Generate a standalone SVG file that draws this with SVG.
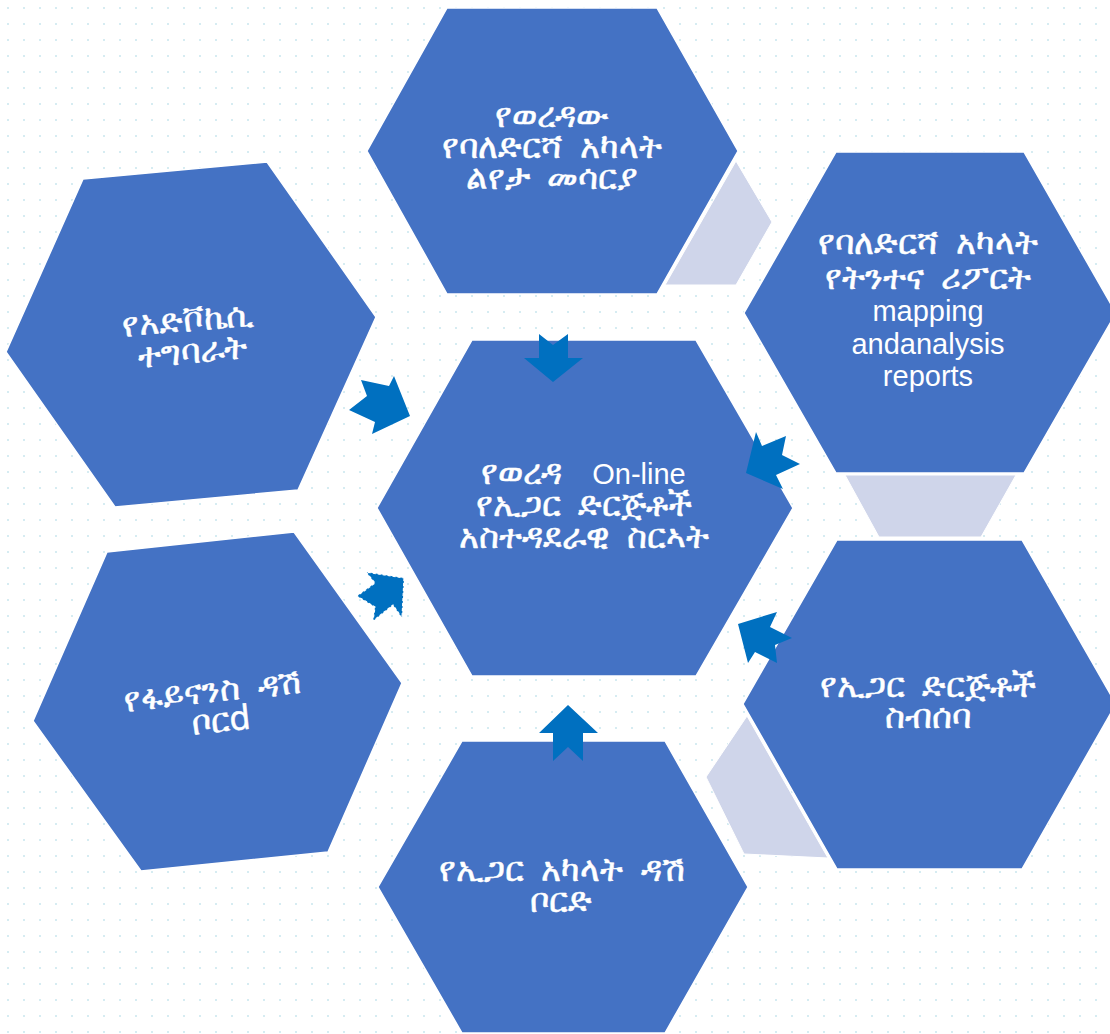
<svg xmlns="http://www.w3.org/2000/svg" width="1110" height="1034" viewBox="0 0 1110 1034">
  <defs>
    <pattern id="dots" x="0" y="0" width="16" height="16" patternUnits="userSpaceOnUse">
      <rect x="7" y="7" width="2" height="2" fill="#D6ECF2"/>
    </pattern>
    <style>
      .hex { fill: #4472C4; stroke: #FFFFFF; stroke-width: 1.5; }
      .ghost { fill: #CFD5EA; stroke: #FFFFFF; stroke-width: 1; }
      .arrow { fill: #0070C0; }
      .arrow2 { fill: #0070C0; stroke: #FFFFFF; stroke-width: 1.2; stroke-dasharray: 3 2; }
      .lbl { fill: #FFFFFF; stroke: #FFFFFF; stroke-width: 0.5; font-family: "Noto Sans", "Liberation Sans", sans-serif; font-size: 34px; word-spacing: 9px; text-anchor: middle; }
      .en { fill: #FFFFFF; font-family: "Liberation Sans", Arial, sans-serif; font-size: 29px; text-anchor: middle; }
    </style>
  </defs>

  <rect x="0" y="0" width="1110" height="1034" fill="#FFFFFF"/>
  <rect x="0" y="0" width="1110" height="1034" fill="url(#dots)"/>

  <!-- light ghost shapes -->
  <g id="ghosts">
    <polygon class="ghost" points="736,161 772,222 736,285 665,285"/>
    <polygon class="ghost" points="845,475 1016,475 981,537 879,537"/>
    <polygon class="ghost" points="747,716 706,777 744,854 828,858"/>
  </g>

  <g id="node-top">
    <polygon class="hex" points="447,8 657,8 738,151 657,294 447,294 367,151"/>
    <text class="lbl" x="552" y="127">የወረዳው</text>
    <text class="lbl" x="552" y="158">የባለድርሻ አካላት</text>
    <text class="lbl" x="552" y="189">ልየታ መሳርያ</text>
  </g>

  <g id="node-topright">
    <polygon class="hex" points="836,152 1024,152 1116,313 1024,473 836,473 744,313"/>
    <text class="lbl" x="928" y="254">የባለድርሻ አካላት</text>
    <text class="lbl" x="928" y="289">የትንተና ሪፖርት</text>
    <text class="en" x="928" y="321">mapping</text>
    <text class="en" x="928" y="354">andanalysis</text>
    <text class="en" x="928" y="386">reports</text>
  </g>

  <g id="node-bottomright">
    <polygon class="hex" points="837,540 1022,540 1116,704 1022,869 837,869 743,704"/>
    <text class="lbl" x="928" y="697">የኢጋር ድርጅቶች</text>
    <text class="lbl" x="928" y="728">ስብሰባ</text>
  </g>

  <g id="node-bottom">
    <polygon class="hex" points="462,741 665,741 748,887 665,1033 462,1033 378,887"/>
    <text class="lbl" x="562" y="881">የኢጋር አካላት ዳሽ</text>
    <text class="lbl" x="561" y="912">ቦርድ</text>
  </g>

  <g id="node-bottomleft">
    <polygon class="hex" points="107,552 294,532 402,683 328,852 141,871 33,721"/>
    <g transform="rotate(-6 216 703)">
      <text class="lbl" x="214" y="702">የፋይናንስ ዳሽ</text>
      <text class="lbl" x="219" y="732">ቦርd</text>
    </g>
  </g>

  <g id="node-topleft">
    <polygon class="hex" points="83,179 267,162 376,317 298,490 115,507 6,352"/>
    <g transform="rotate(-5 190 336)">
      <text class="lbl" x="189" y="331">የአድቮኬሲ</text>
      <text class="lbl" x="191" y="363">ተግባራት</text>
    </g>
  </g>

  <g id="node-center">
    <polygon class="hex" points="472,340 696,340 793,508 696,676 472,676 377,508"/>
    <text class="lbl" x="521" y="484">የወረዳ</text>
    <text class="en" x="639" y="484">On-line</text>
    <text class="lbl" x="584" y="516">የኢጋር ድርጅቶች</text>
    <text class="lbl" x="584" y="548">አስተዳደራዊ ስርኣት</text>
  </g>

  <g id="connectors">
    <polygon class="arrow" points="539,334 553,345 568,334 568,358 583,358 553,382 524,358 539,358"/>
    <polygon class="arrow" points="568,705 598,733 583,733 583,761 568,747 553,761 553,733 539,733"/>
    <polygon class="arrow" points="361,380 389,386 394,376 410,416 372,434 375,422 349,410 367,396"/>
    <polygon class="arrow" points="746,473 756,432 762,446 786,436 782,455 800,464 776,475 783,489"/>
    <polygon class="arrow" points="738,624 777,612 770,627 792,638 775,645 777,663 755,652 748,663"/>
    <polygon class="arrow2" points="404,578 402,618 393,605 373,621 375,607 357,596 375,583 366,572"/>
  </g>
</svg>
